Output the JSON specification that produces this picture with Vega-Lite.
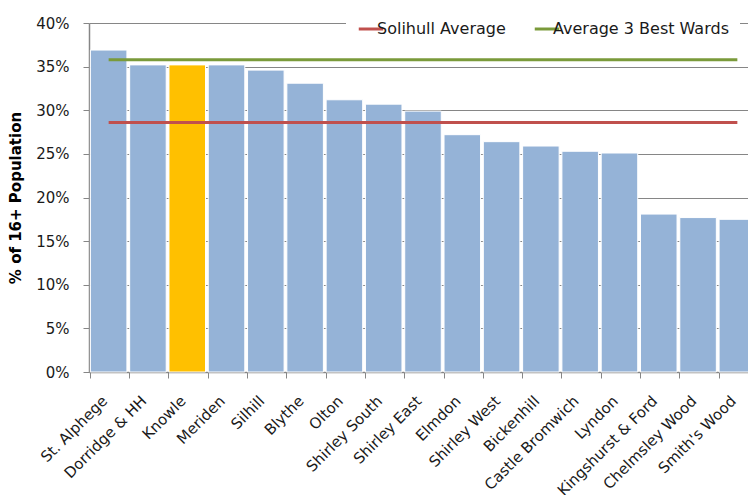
{
  "$schema": "https://vega.github.io/schema/vega-lite/v6.json",
  "autosize": {"type": "none"},
  "padding": {"left": 89, "top": 23, "right": 0, "bottom": 123},
  "width": 659,
  "height": 349,
  "background": "white",
  "config": {
    "view": {"stroke": null},
    "font": "DejaVu Sans",
    "axis": {"labelFont": "DejaVu Sans", "labelColor": "#1a1a1a", "domainColor": "#868686", "tickColor": "#868686", "gridColor": "#868686"}
  },
  "data": {
    "values": [
      {"ward": "St. Alphege", "value": 0.369, "highlight": "no", "Solihull Average": 0.286, "Average 3 Best Wards": 0.358},
      {"ward": "Dorridge & HH", "value": 0.352, "highlight": "no", "Solihull Average": 0.286, "Average 3 Best Wards": 0.358},
      {"ward": "Knowle", "value": 0.352, "highlight": "yes", "Solihull Average": 0.286, "Average 3 Best Wards": 0.358},
      {"ward": "Meriden", "value": 0.352, "highlight": "no", "Solihull Average": 0.286, "Average 3 Best Wards": 0.358},
      {"ward": "Silhill", "value": 0.346, "highlight": "no", "Solihull Average": 0.286, "Average 3 Best Wards": 0.358},
      {"ward": "Blythe", "value": 0.331, "highlight": "no", "Solihull Average": 0.286, "Average 3 Best Wards": 0.358},
      {"ward": "Olton", "value": 0.312, "highlight": "no", "Solihull Average": 0.286, "Average 3 Best Wards": 0.358},
      {"ward": "Shirley South", "value": 0.307, "highlight": "no", "Solihull Average": 0.286, "Average 3 Best Wards": 0.358},
      {"ward": "Shirley East", "value": 0.299, "highlight": "no", "Solihull Average": 0.286, "Average 3 Best Wards": 0.358},
      {"ward": "Elmdon", "value": 0.272, "highlight": "no", "Solihull Average": 0.286, "Average 3 Best Wards": 0.358},
      {"ward": "Shirley West", "value": 0.264, "highlight": "no", "Solihull Average": 0.286, "Average 3 Best Wards": 0.358},
      {"ward": "Bickenhill", "value": 0.259, "highlight": "no", "Solihull Average": 0.286, "Average 3 Best Wards": 0.358},
      {"ward": "Castle Bromwich", "value": 0.253, "highlight": "no", "Solihull Average": 0.286, "Average 3 Best Wards": 0.358},
      {"ward": "Lyndon", "value": 0.251, "highlight": "no", "Solihull Average": 0.286, "Average 3 Best Wards": 0.358},
      {"ward": "Kingshurst & Ford", "value": 0.181, "highlight": "no", "Solihull Average": 0.286, "Average 3 Best Wards": 0.358},
      {"ward": "Chelmsley Wood", "value": 0.177, "highlight": "no", "Solihull Average": 0.286, "Average 3 Best Wards": 0.358},
      {"ward": "Smith's Wood", "value": 0.175, "highlight": "no", "Solihull Average": 0.286, "Average 3 Best Wards": 0.358}
    ]
  },
  "encoding": {
    "x": {
      "field": "ward", "type": "nominal", "sort": null,
      "scale": {"range": [0, 668], "paddingInner": 0.07, "paddingOuter": 0.035},
      "axis": {
        "title": null, "bandPosition": 0, "labelOffset": -4, "labelAngle": -45,
        "labelAlign": "right", "labelBaseline": "middle", "labelFontSize": 15,
        "labelPadding": 20, "tickSize": 6, "grid": false, "domainWidth": 1.5
      }
    }
  },
  "layer": [
    {
      "mark": {"type": "bar", "stroke": "white", "strokeWidth": 1},
      "encoding": {
        "y": {
          "field": "value", "type": "quantitative",
          "scale": {"domain": [0, 0.4], "nice": false},
          "axis": {
            "title": "% of 16+ Population", "titleFont": "DejaVu Sans", "titleFontSize": 15,
            "titleFontWeight": "bold", "titleColor": "black", "titlePadding": 12,
            "format": ".0%", "values": [0, 0.05, 0.1, 0.15, 0.2, 0.25, 0.3, 0.35, 0.4],
            "labelFontSize": 15, "labelPadding": 14, "tickSize": 6, "grid": true, "domainWidth": 1.5
          }
        },
        "color": {
          "field": "highlight", "type": "nominal",
          "scale": {"domain": ["no", "yes"], "range": ["#95B3D7", "#FFC000"]},
          "legend": null
        }
      }
    },
    {
      "transform": [{"fold": ["Solihull Average", "Average 3 Best Wards"], "as": ["series", "avg"]}],
      "mark": {"type": "line", "strokeWidth": 3},
      "encoding": {
        "y": {"field": "avg", "type": "quantitative"},
        "stroke": {
          "field": "series", "type": "nominal",
          "scale": {"domain": ["Solihull Average", "Average 3 Best Wards"], "range": ["#C0504D", "#7A9A3A"]},
          "legend": {
            "title": null, "orient": "none", "direction": "horizontal",
            "legendX": 257, "legendY": -19, "padding": 11, "fillColor": "white",
            "symbolType": "stroke", "symbolSize": 600, "symbolStrokeWidth": 3,
            "labelFontSize": 16, "labelFont": "DejaVu Sans", "labelColor": "#1a1a1a",
            "labelOffset": -8, "columnPadding": 22, "labelLimit": 400
          }
        }
      }
    }
  ]
}
